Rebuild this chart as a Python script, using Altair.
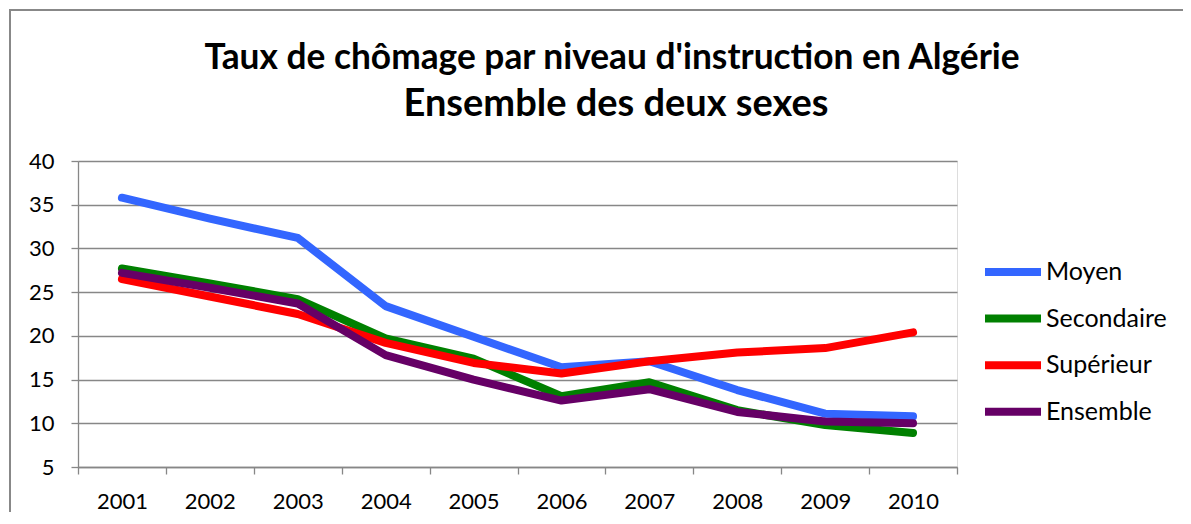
import altair as alt
import pandas as pd

years = ["2001", "2002", "2003", "2004", "2005", "2006", "2007", "2008", "2009", "2010"]
series = ["Moyen", "Secondaire", "Supérieur", "Ensemble"]
colors = ["#3366ff", "#008000", "#ff0000", "#660066"]
moyen = [35.8, 33.4, 31.2, 23.4, 19.9, 16.4, 17.1, 13.8, 11.1, 10.8]
secondaire = [27.7, 26.0, 24.2, 19.7, 17.4, 13.1, 14.7, 11.5, 9.8, 8.9]
superieur = [26.5, 24.5, 22.5, 19.2, 16.9, 15.7, 17.1, 18.1, 18.6, 20.4]
ensemble = [27.2, 25.5, 23.7, 17.8, 15.0, 12.6, 13.9, 11.3, 10.2, 10.0]
y_ticks = [5, 10, 15, 20, 25, 30, 35, 40]
title1 = "Taux de chômage par niveau d'instruction en Algérie"
title2 = "Ensemble des deux sexes"

rows = []
for name, vals in zip(series, [moyen, secondaire, superieur, ensemble]):
    for yr, v in zip(years, vals):
        rows.append({"annee": yr, "serie": name, "taux": v})
df = pd.DataFrame(rows)

FONT = "Lato"
GRAY = "#878787"
W, H = 879, 306

lines = alt.Chart(df).mark_line(strokeWidth=8, strokeCap="round", strokeJoin="round").encode(
    x=alt.X("annee:O", sort=years, bandPosition=0.5,
            scale=alt.Scale(type="band", paddingInner=0, paddingOuter=0),
            axis=alt.Axis(title=None, tickBand="extent", labelAngle=0, grid=False,
                          domainColor=GRAY, tickColor=GRAY, domainWidth=1.3, tickWidth=1.3,
                          tickSize=7, labelPadding=17, labelFont=FONT, labelFontSize=22,
                          labelColor="#000000")),
    y=alt.Y("taux:Q", scale=alt.Scale(domain=[5, 40], nice=False, zero=False),
            axis=alt.Axis(title=None, values=y_ticks, grid=True, gridColor=GRAY, gridWidth=1.3,
                          domainColor=GRAY, tickColor=GRAY, domainWidth=1.3, tickWidth=1.3,
                          tickSize=7, labelPadding=17, labelFont=FONT, labelFontSize=22,
                          labelColor="#000000")),
    color=alt.Color("serie:N", sort=series,
                    scale=alt.Scale(domain=series, range=colors),
                    legend=alt.Legend(title=None, orient="none", legendX=917, legendY=93,
                                      symbolType="M-2,0H2", symbolSize=784, symbolStrokeWidth=8,
                                      labelFont=FONT, labelFontSize=25, labelColor="#000000",
                                      labelOffset=15, rowPadding=12.6, padding=0)),
)

t1 = alt.Chart(pd.DataFrame({"t": [title1]})).mark_text(
    font=FONT, fontWeight="bold", fontSize=35.3, align="center", baseline="alphabetic", color="#000000"
).encode(x=alt.value(534), y=alt.value(-92), text="t:N")

t2 = alt.Chart(pd.DataFrame({"t": [title2]})).mark_text(
    font=FONT, fontWeight="bold", fontSize=38, align="center", baseline="alphabetic", color="#000000"
).encode(x=alt.value(538), y=alt.value(-45), text="t:N")

frame_df = pd.DataFrame({"f": [1]})
frame_top = alt.Chart(frame_df).mark_rule(color="#888888", strokeWidth=2).encode(
    x=alt.value(-69), x2=alt.value(1105), y=alt.value(-151))
frame_left = alt.Chart(frame_df).mark_rule(color="#888888", strokeWidth=2).encode(
    x=alt.value(-68), y=alt.value(-152), y2=alt.value(700))

chart = alt.layer(frame_top, frame_left, t1, t2, lines).properties(
    width=W, height=H,
    autosize=alt.AutoSizeParams(type="none"),
    padding={"left": 70, "top": 153, "right": 226, "bottom": 45},
).configure_view(stroke=None).configure(background="#ffffff")

chart.save("out.html", embed_options={"renderer": "svg", "actions": False})
